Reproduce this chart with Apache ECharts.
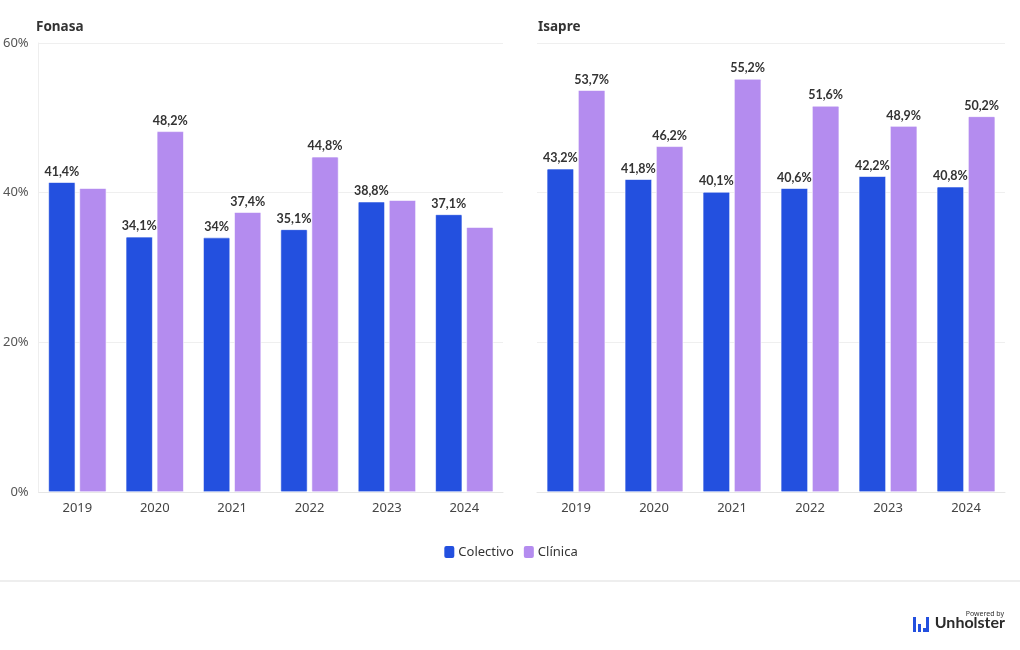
<!DOCTYPE html>
<html>
<head>
<meta charset="utf-8">
<script src="https://cdn.jsdelivr.net/npm/echarts@6/dist/echarts.min.js"></script>
<style>
  html, body { margin: 0; padding: 0; background: #fff; }
  #main { width: 1020px; height: 650px; }
</style>
</head>
<body>
<div id="main"></div>
<script>
// 数据
var years = ['2019', '2020', '2021', '2022', '2023', '2024'];
var fonasaColectivo = [41.4, 34.1, 34, 35.1, 38.8, 37.1];
var fonasaClinica = [40.6, 48.2, 37.4, 44.8, 39.0, 35.4];
var isapreColectivo = [43.2, 41.8, 40.1, 40.6, 42.2, 40.8];
var isapreClinica = [53.7, 46.2, 55.2, 51.6, 48.9, 50.2];
var yTicks = [0, 20, 40, 60];

var blue = '#2350df';
var purple = '#b48cef';

function pct(v) {
  return String(v).replace('.', ',') + '%';
}

// 两个标签太近时只显示 Colectivo 的标签
function clinicaData(clin, col) {
  return clin.map(function (v, i) {
    var hide = Math.abs(v - col[i]) < 2.5;
    return hide ? { value: v, label: { show: false } } : v;
  });
}

var labelStyle = {
  show: true,
  position: 'top',
  distance: 4,
  color: '#333',
  fontWeight: 'bold',
  fontSize: 12.5,
  fontFamily: 'Lato',
  formatter: function (p) { return pct(p.value); }
};

function xAxis(idx) {
  return {
    type: 'category',
    gridIndex: idx,
    data: years,
    axisLine: { lineStyle: { color: '#e6e6e6' } },
    axisTick: { alignWithLabel: true, length: 4, lineStyle: { color: '#e6e6e6' } },
    axisLabel: { color: '#444', fontSize: 13, fontFamily: 'Noto Sans', margin: 10 }
  };
}

function yAxis(idx, showLabel) {
  return {
    type: 'value',
    gridIndex: idx,
    min: yTicks[0],
    max: yTicks[yTicks.length - 1],
    interval: 20,
    axisLine: { show: showLabel, lineStyle: { color: '#eeeeee' } },
    axisTick: { show: false },
    axisLabel: {
      show: showLabel,
      color: '#555',
      fontSize: 13,
      fontFamily: 'Noto Sans',
      margin: 10,
      formatter: '{value}%'
    },
    splitLine: { lineStyle: { color: '#efefef' } }
  };
}

function barSeries(name, xi, data, color) {
  return {
    name: name,
    type: 'bar',
    xAxisIndex: xi,
    yAxisIndex: xi,
    data: data,
    barGap: '15%',
    barCategoryGap: '25%',
    itemStyle: { color: color, borderColor: '#ffffff', borderWidth: 0.6, borderRadius: 1 },
    label: labelStyle
  };
}

var myChart = echarts.init(document.getElementById('main'));
var option = {
  animation: false,
  color: [blue, purple],
  title: [
    { text: 'Fonasa', left: 31, top: 15, textStyle: { fontSize: 13.5, fontWeight: 'bold', color: '#333', fontFamily: 'Noto Sans' } },
    { text: 'Isapre', left: 533, top: 15, textStyle: { fontSize: 13.5, fontWeight: 'bold', color: '#333', fontFamily: 'Noto Sans' } }
  ],
  legend: {
    data: ['Colectivo', 'Clínica'],
    top: 539,
    left: 'center',
    icon: 'roundRect',
    itemWidth: 12,
    itemHeight: 14,
    itemGap: 8,
    textStyle: { color: '#333', fontSize: 13, fontFamily: 'Noto Sans', padding: [0, 0, 0, -2] }
  },
  grid: [
    { left: 35, top: 43, width: 468, bottom: 158 },
    { left: 537, top: 43, width: 468, bottom: 158 }
  ],
  xAxis: [xAxis(0), xAxis(1)],
  yAxis: [yAxis(0, true), yAxis(1, false)],
  series: [
    barSeries('Colectivo', 0, fonasaColectivo, blue),
    barSeries('Clínica', 0, clinicaData(fonasaClinica, fonasaColectivo), purple),
    barSeries('Colectivo', 1, isapreColectivo, blue),
    barSeries('Clínica', 1, clinicaData(isapreClinica, isapreColectivo), purple)
  ],
  graphic: [
    { type: 'line', shape: { x1: 0, y1: 581, x2: 1020, y2: 581 }, style: { stroke: '#dddddd', lineWidth: 1 } },
    { type: 'text', x: 1004, y: 610, style: { text: 'Powered by', fontSize: 7, fill: '#333', fontFamily: 'Noto Sans', align: 'right' } },
    { type: 'rect', shape: { x: 913, y: 617, width: 3, height: 15 }, style: { fill: '#2350df' } },
    { type: 'rect', shape: { x: 918, y: 624, width: 3, height: 8 }, style: { fill: '#2350df' } },
    { type: 'rect', shape: { x: 923, y: 628, width: 3, height: 4 }, style: { fill: '#2350df' } },
    { type: 'rect', shape: { x: 926, y: 617, width: 3, height: 15 }, style: { fill: '#2350df' } },
    { type: 'text', x: 1005, y: 615, style: { text: 'Unholster', fontSize: 16, fontWeight: 'bold', fill: '#2b2b2b', fontFamily: 'Lato', align: 'right' } }
  ]
};
myChart.setOption(option);
</script>
</body>
</html>
